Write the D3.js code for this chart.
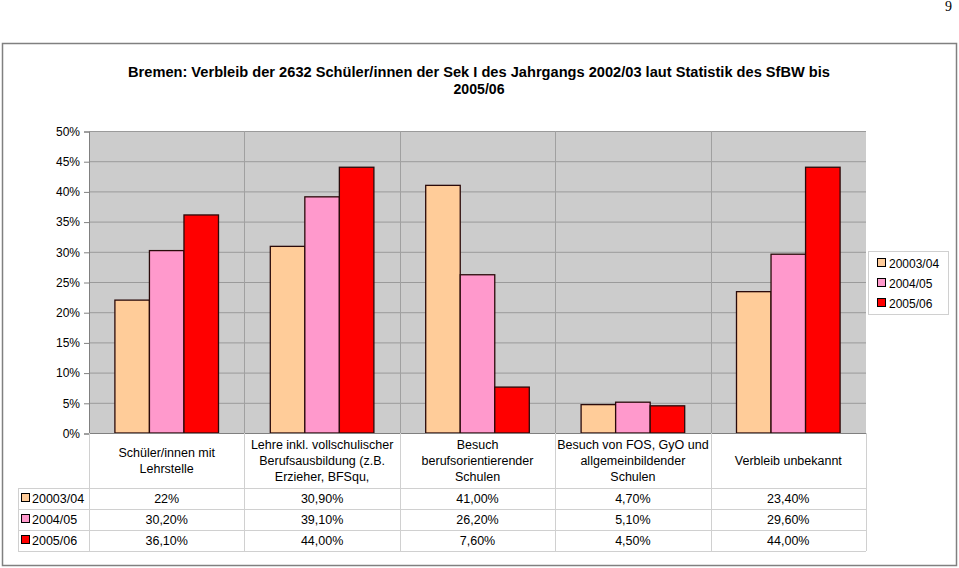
<!DOCTYPE html>
<html>
<head>
<meta charset="utf-8">
<script src="https://cdn.jsdelivr.net/npm/d3@7"></script>
<style>
  body { margin: 0; background: #fff; }
  svg { display: block; font-family: "Liberation Sans", Arial, sans-serif; }
</style>
</head>
<body>
<div id="chart"></div>
<script>
// data
const categories = [
  ['Schüler/innen mit', 'Lehrstelle'],
  ['Lehre inkl. vollschulischer', 'Berufsausbildung (z.B.', 'Erzieher, BFSqu,'],
  ['Besuch', 'berufsorientierender', 'Schulen'],
  ['Besuch von FOS, GyO und', 'allgemeinbildender', 'Schulen'],
  ['Verbleib unbekannt']
]
const seriesNames = ['20003/04', '2004/05', '2005/06']
const seriesColors = ['#ffcc99', '#ff99cc', '#ff0000']
const values0304 = [22, 30.9, 41, 4.7, 23.4]
const values0405 = [30.2, 39.1, 26.2, 5.1, 29.6]
const values0506 = [36.1, 44, 7.6, 4.5, 44]
const tableLabels0304 = ['22%', '30,90%', '41,00%', '4,70%', '23,40%']
const tableLabels0405 = ['30,20%', '39,10%', '26,20%', '5,10%', '29,60%']
const tableLabels0506 = ['36,10%', '44,00%', '7,60%', '4,50%', '44,00%']
const yTicks = [0, 5, 10, 15, 20, 25, 30, 35, 40, 45, 50]

const series = [values0304, values0405, values0506]
const tableRows = [tableLabels0304, tableLabels0405, tableLabels0506]

const width = 959, height = 568
const plot = { left: 89, right: 866, top: 131, bottom: 433 }

const svg = d3.select('#chart').append('svg')
  .attr('width', width)
  .attr('height', height)

// page number
svg.append('text')
  .attr('x', 952).attr('y', 11)
  .attr('text-anchor', 'end')
  .attr('font-family', '"Liberation Serif", serif')
  .attr('font-size', 14)
  .text('9')

// outer frame
svg.append('rect')
  .attr('x', 2.5).attr('y', 43.5)
  .attr('width', 954).attr('height', 522)
  .attr('fill', '#fff')
  .attr('stroke', '#808080')
  .attr('stroke-width', 1.5)

// title
svg.append('text')
  .attr('x', 479).attr('y', 77)
  .attr('text-anchor', 'middle')
  .attr('font-size', 14).attr('font-weight', 'bold')
  .attr('textLength', 702).attr('lengthAdjust', 'spacingAndGlyphs')
  .text('Bremen: Verbleib der 2632 Schüler/innen der Sek I des Jahrgangs 2002/03 laut Statistik des SfBW bis')
svg.append('text')
  .attr('x', 479).attr('y', 94)
  .attr('text-anchor', 'middle')
  .attr('font-size', 14).attr('font-weight', 'bold')
  .attr('textLength', 51).attr('lengthAdjust', 'spacingAndGlyphs')
  .text('2005/06')

const x0 = d3.scaleBand()
  .domain(d3.range(categories.length))
  .range([plot.left, plot.right])
  .paddingInner(0).paddingOuter(0)

const x1 = d3.scaleBand()
  .domain(d3.range(series.length))
  .range([0, x0.bandwidth()])
  .paddingOuter(0.75)

const y = d3.scaleLinear()
  .domain([0, 50])
  .range([plot.bottom, plot.top])

// plot background
svg.append('rect')
  .attr('x', plot.left).attr('y', plot.top)
  .attr('width', plot.right - plot.left)
  .attr('height', plot.bottom - plot.top)
  .attr('fill', '#cccccc')

// gridlines
svg.append('g')
  .selectAll('line')
  .data(yTicks.slice(1))
  .join('line')
  .attr('x1', plot.left).attr('x2', plot.right)
  .attr('y1', d => y(d) + 0.5).attr('y2', d => y(d) + 0.5)
  .attr('stroke', '#9a9a9a')

// category separators in plot
svg.append('g')
  .selectAll('line')
  .data(d3.range(1, categories.length))
  .join('line')
  .attr('x1', d => Math.round(x0(d)) + 0.5).attr('x2', d => Math.round(x0(d)) + 0.5)
  .attr('y1', plot.top).attr('y2', plot.bottom)
  .attr('stroke', '#a0a0a0')

// y axis
const yAxis = d3.axisLeft(y)
  .tickValues(yTicks)
  .tickFormat(d => d + '%')
  .tickSize(5)
  .tickPadding(4)

const yg = svg.append('g')
  .attr('transform', `translate(${plot.left},0.5)`)
  .call(yAxis)
yg.select('.domain').attr('stroke', '#808080')
yg.selectAll('.tick line').attr('stroke', '#808080')
yg.selectAll('.tick text')
  .attr('font-size', 12)
  .attr('font-family', '"Liberation Sans", Arial, sans-serif')
  .attr('fill', '#000')

// bars
series.forEach((vals, si) => {
  svg.append('g')
    .selectAll('rect')
    .data(vals)
    .join('rect')
    .attr('x', (d, i) => x0(i) + x1(si))
    .attr('y', d => y(d))
    .attr('width', x1.bandwidth())
    .attr('height', d => y(0) - y(d))
    .attr('fill', seriesColors[si])
    .attr('stroke', '#2a0a0a')
    .attr('stroke-width', 1.3)
})

// bottom axis line
svg.append('line')
  .attr('x1', plot.left).attr('x2', plot.right)
  .attr('y1', plot.bottom + 0.5).attr('y2', plot.bottom + 0.5)
  .attr('stroke', '#808080')

// data table
const tableLeft = 18
const rowLines = [488, 509, 530, 551]
const grid = svg.append('g').attr('stroke', '#d0d0d0')

grid.selectAll('.hline')
  .data(rowLines)
  .join('line')
  .attr('x1', tableLeft).attr('x2', plot.right)
  .attr('y1', d => d + 0.5).attr('y2', d => d + 0.5)

grid.selectAll('.vline')
  .data(d3.range(0, categories.length + 1))
  .join('line')
  .attr('x1', d => Math.round(x0(d) ?? plot.right) + 0.5)
  .attr('x2', d => Math.round(x0(d) ?? plot.right) + 0.5)
  .attr('y1', plot.bottom).attr('y2', rowLines[3])

grid.append('line')
  .attr('x1', tableLeft + 0.5).attr('x2', tableLeft + 0.5)
  .attr('y1', rowLines[0]).attr('y2', rowLines[3])

// category labels
categories.forEach((lines, i) => {
  const cx = x0(i) + x0.bandwidth() / 2
  const top = 460.5 - (lines.length - 1) * 8
  const t = svg.append('text')
    .attr('text-anchor', 'middle')
    .attr('font-size', 12.5)
  t.selectAll('tspan')
    .data(lines)
    .join('tspan')
    .attr('x', cx)
    .attr('y', (d, j) => top + 4 + j * 16)
    .text(d => d)
})

// value rows
tableRows.forEach((row, si) => {
  const cy = (rowLines[si] + rowLines[si + 1]) / 2 + 4.5
  svg.append('g')
    .selectAll('text')
    .data(row)
    .join('text')
    .attr('x', (d, i) => x0(i) + x0.bandwidth() / 2)
    .attr('y', cy)
    .attr('text-anchor', 'middle')
    .attr('font-size', 12.5)
    .text(d => d)

  svg.append('rect')
    .attr('x', 21.5).attr('y', cy - 9.5)
    .attr('width', 8).attr('height', 8)
    .attr('fill', seriesColors[si])
    .attr('stroke', '#000')
  svg.append('text')
    .attr('x', 32).attr('y', cy)
    .attr('font-size', 12.5)
    .text(seriesNames[si])
})

// legend
const legend = svg.append('g')
legend.append('rect')
  .attr('x', 868.5).attr('y', 251.5)
  .attr('width', 80).attr('height', 63)
  .attr('fill', '#fff')
  .attr('stroke', '#d0d0d0')
seriesNames.forEach((name, si) => {
  const ly = 268 + si * 20
  legend.append('rect')
    .attr('x', 877.5).attr('y', ly - 9.5)
    .attr('width', 8).attr('height', 8)
    .attr('fill', seriesColors[si])
    .attr('stroke', '#000')
  legend.append('text')
    .attr('x', 889).attr('y', ly)
    .attr('font-size', 12)
    .text(name)
})
</script>
</body>
</html>
